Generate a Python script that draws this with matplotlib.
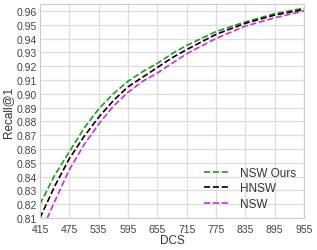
import matplotlib
matplotlib.use('Agg')
import matplotlib.pyplot as plt
import numpy as np

# DCS values and Recall@1 for each method
dcs = [415, 445, 475, 505, 535, 565, 595, 625, 655, 685, 715, 775, 835, 895, 955]
nsw_ours = [0.820, 0.841, 0.858, 0.875, 0.889, 0.900, 0.909, 0.916, 0.922, 0.929, 0.935, 0.945, 0.952, 0.958, 0.962]
hnsw = [0.810, 0.833, 0.853, 0.869, 0.883, 0.895, 0.905, 0.912, 0.919, 0.926, 0.932, 0.943, 0.951, 0.957, 0.961]
nsw = [0.798, 0.822, 0.845, 0.863, 0.878, 0.891, 0.901, 0.909, 0.915, 0.922, 0.929, 0.940, 0.949, 0.955, 0.960]

xticks = np.arange(415, 956, 60)
yticks = np.arange(0.81, 0.965, 0.01)

plt.rcParams['font.family'] = ['Liberation Sans', 'DejaVu Sans']

fig = plt.figure(figsize=(3.17, 2.51), dpi=100)
ax = fig.add_axes([40/317, 1 - 219/251, 264/317, 214/251])

ax.plot(dcs, nsw_ours, '--', color='#1f9a1f', linewidth=1.2, label='NSW Ours')
ax.plot(dcs, hnsw, '--', color='black', linewidth=1.2, label='HNSW')
ax.plot(dcs, nsw, '--', color='#d42bd4', linewidth=1.2, label='NSW')

ax.set_xlim(415, 955)
ax.set_ylim(0.81, 0.965)
ax.set_xticks(xticks)
ax.set_yticks(yticks)
ax.set_yticklabels(['%.2f' % v for v in yticks])
ax.tick_params(labelsize=7.5, colors='#444444', length=0)
ax.tick_params(axis='y', pad=2)
ax.tick_params(axis='x', pad=4)
ax.grid(True, color='#dddddd', linewidth=0.9)
ax.set_axisbelow(True)
for s in ax.spines.values():
    s.set_color('#cccccc')
    s.set_linewidth(0.8)

ax.set_xlabel('DCS', fontsize=8.5, color='#333333', labelpad=0)
ax.set_ylabel('Recall@1', fontsize=8.5, color='#333333', labelpad=2)
leg = ax.legend(loc='lower right', frameon=False, fontsize=8.5, handlelength=2.2,
                borderaxespad=0.3, labelspacing=0.3, handletextpad=0.8)
for t in leg.get_texts():
    t.set_color('#333333')

fig.savefig('out.png', dpi=100)
